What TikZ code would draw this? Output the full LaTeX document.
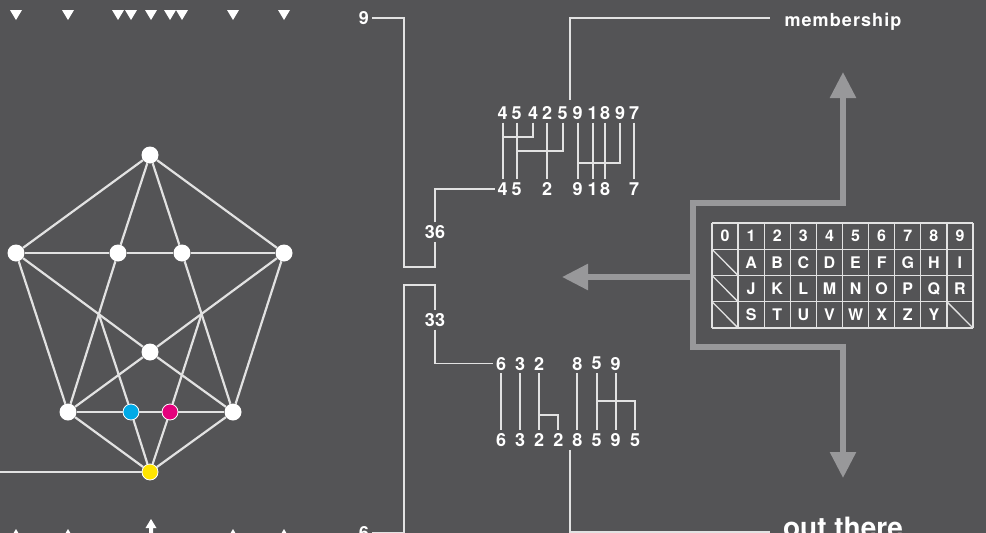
\documentclass[tikz,border=0pt]{standalone}
\usepackage{fontspec}
\setmainfont{TeX Gyre Heros}
\usetikzlibrary{positioning,arrows.meta}

\definecolor{board}{RGB}{84,84,86}
\definecolor{wire}{RGB}{226,226,226}
\definecolor{flow}{RGB}{152,152,154}
\definecolor{dotcyan}{RGB}{0,170,230}
\definecolor{dotmagenta}{RGB}{228,0,124}
\definecolor{dotyellow}{RGB}{255,228,0}

\tikzset{
  vertex/.style={circle,fill=white,inner sep=0pt,minimum size=17pt},
  cvertex/.style={circle,draw=white,line width=0.8pt,inner sep=0pt,minimum size=16pt},
  edge/.style={wire,line width=2.2pt},
  link/.style={wire,line width=1.9pt},
  num/.style={text=white,font=\bfseries\fontsize{18}{18}\selectfont,inner sep=3pt,text depth=0pt},
  cell/.style={text=white,font=\bfseries\fontsize{16}{16}\selectfont,inner sep=0pt,text height=11.5pt,text depth=0pt},
  tabline/.style={wire,line width=1.3pt},
  flowline/.style={flow,line width=5.5pt},
  flowtip/.tip={Triangle[length=26pt,width=25pt]},
}

\begin{document}
\begin{tikzpicture}[x=1pt,y=-1pt]
  \fill[board] (0,0) rectangle (986,533);
  \useasboundingbox (0,0) rectangle (986,533);
  \clip (0,0) rectangle (986,533);

  % markers on the top and bottom edge
  \foreach \x in {16,68,118,131,151,170,182,233,284}
    \fill[white] ({\x-6},10) -- ({\x+6},10) -- (\x,20) -- cycle;
  \foreach \x in {16,68,233,284}
    \fill[white] (\x,529) -- ({\x+6},539) -- ({\x-6},539) -- cycle;
  \fill[white] (151,519) -- (156.5,528) -- (153,528) -- (153,540)
    -- (149,540) -- (149,528) -- (145.5,528) -- cycle;

  % the graph
  \node[vertex] (top) at (150,155) {};
  \node[vertex] (lo) at (16,253) {};
  \node[vertex] (li) at (118,253) {};
  \node[vertex] (ri) at (182,253) {};
  \node[vertex] (ro) at (284,253) {};
  \node[vertex] (mid) at (150,352) {};
  \node[vertex] (bl) at (68,412) {};
  \node[vertex] (br) at (233,412) {};
  \node[cvertex,fill=dotcyan] (cy) at (131,412) {};
  \node[cvertex,fill=dotmagenta] (mg) at (170,412) {};
  \node[cvertex,fill=dotyellow] (ye) at (150,472) {};
  \foreach \a/\b in {top/lo,top/ro,top/li,top/ri,lo/li,li/ri,ri/ro,lo/bl,ro/br,
      lo/mid,ro/mid,li/bl,ri/br,mid/bl,mid/br,bl/cy,cy/mg,mg/br,bl/ye,cy/ye,mg/ye,br/ye}
    \draw[edge] (\a) -- (\b);
  \coordinate (xl) at (intersection of li.center--bl.center and lo.center--mid.center);
  \coordinate (xr) at (intersection of ri.center--br.center and ro.center--mid.center);
  \draw[edge] (cy) -- (xl);
  \draw[edge] (mg) -- (xr);
  \coordinate (feed) at (0,472);
  \draw[edge] (feed) -- (ye);

  % upper number rows
  \node[num] (nine) at (364,18) {9};
  \node[num] (n36) at (435,232) {36};
  \foreach \x/\d [count=\i] in {502.7/4,516.7/5,533/4,547/2,562.7/5,577.7/9,592.7/1,605/8,620/9,634/7}
    \node[num] (t\i) at (\x,113) {\d};
  \foreach \x/\d [count=\i] in {502.7/4,516.7/5,547/2,577.7/9,592.7/1,605/8,634/7}
    \node[num] (b\i) at (\x,189) {\d};
  \foreach \a/\b in {1/1,2/2,4/3,6/4,7/5,8/6,10/7}
    \draw[link] (t\a.south) -- (b\b.north);
  \draw[link] (t3.south) -- ++(0,14) -| (b1.north);
  \draw[link] (t5.south) -- ++(0,28) -| (b2.north);
  \draw[link] (t9.south) -- ++(0,40) -| (b4.north);
  \draw[link] (nine.east) -- ++(32,0) -- ++(0,249) -| (n36.south);
  \draw[link] (n36.north) |- (b1.west);

  % lower number rows
  \node[num] (six) at (364,533) {6};
  \node[num] (n33) at (435,320) {33};
  \foreach \x/\d [count=\i] in {501/6,520/3,539/2,577.3/8,596.7/5,615.7/9}
    \node[num] (u\i) at (\x,363.5) {\d};
  \foreach \x/\d [count=\i] in {501/6,520/3,539/2,558.3/2,577.3/8,596.7/5,615.7/9,635/5}
    \node[num] (v\i) at (\x,440) {\d};
  \foreach \a/\b in {1/1,2/2,3/3,4/5,5/6,6/7}
    \draw[link] (u\a.south) -- (v\b.north);
  \draw[link] (u3.south) -- ++(0,41.5) -| (v4.north);
  \draw[link] (u5.south) -- ++(0,27.5) -| (v8.north);
  \draw[link] (six.east) -- ++(32,0) -- ++(0,-248) -| (n33.north);
  \draw[link] (n33.south) |- (u1.west);

  % labels on the right
  \coordinate (memtap) at (570,100);
  \coordinate (memend) at (770,18);
  \draw[link] (memtap) |- (memend);
  \node[anchor=base,text=white,font=\bfseries\fontsize{18}{18}\selectfont\addfontfeatures{LetterSpace=6}]
    (member) at (843,26) {membership};
  \coordinate (outtap) at (570,450);
  \coordinate (outend) at (770,532);
  \draw[link] (outtap) |- (outend);
  \node[anchor=base,text=white,font=\bfseries\fontsize{28}{28}\selectfont]
    (outthere) at (843,537) {out there};

  % grey arrows
  \coordinate (upt) at (843,72);
  \coordinate (dnt) at (843,478);
  \coordinate (lft) at (562,277);
  \draw[flowline,flowtip-flowtip] (upt) -- (843,203) -- (693,203) -- (693,347) -- (843,347) -- (dnt);
  \draw[flowline,-flowtip] (693,277) -- (lft);

  % code table
  \foreach \i in {0,...,10}
    \draw[tabline] ({712+26.1*\i},223) -- ({712+26.1*\i},328);
  \foreach \j in {0,...,4}
    \draw[tabline] (712,{223+26.25*\j}) -- (973,{223+26.25*\j});
  \foreach \r/\c in {1/0,2/0,3/0,3/9}
    \draw[tabline] ({712+26.1*\c},{223+26.25*\r}) -- ({712+26.1*(\c+1)},{223+26.25*(\r+1)});
  \foreach \c in {0,...,9}
    \node[cell] (k0\c) at ({712+26.1*(\c+0.5)},236.1) {\c};
  \foreach \ch [count=\c] in {A,B,C,D,E,F,G,H,I}
    \node[cell] (k1\c) at ({712+26.1*(\c+0.5)},262.4) {\ch};
  \foreach \ch [count=\c] in {J,K,L,M,N,O,P,Q,R}
    \node[cell] (k2\c) at ({712+26.1*(\c+0.5)},288.6) {\ch};
  \foreach \ch [count=\c] in {S,T,U,V,W,X,Z,Y}
    \node[cell] (k3\c) at ({712+26.1*(\c+0.5)},314.9) {\ch};
\end{tikzpicture}
\end{document}
